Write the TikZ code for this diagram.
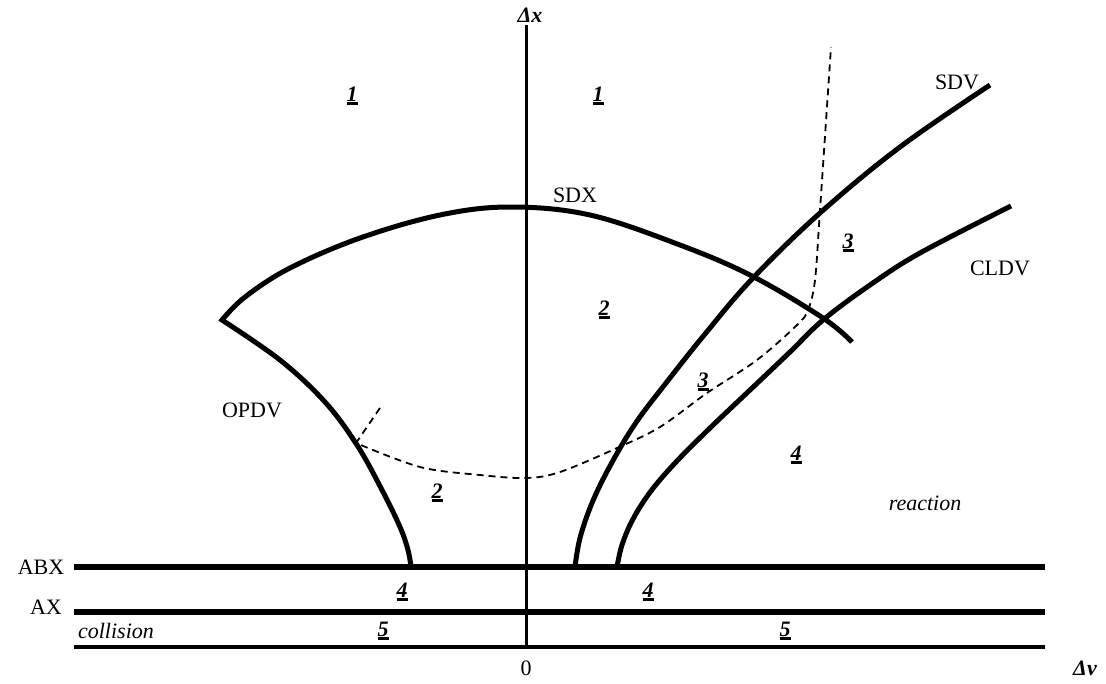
\documentclass[tikz,border=0pt]{standalone}
\usepackage{fontspec}
\setmainfont{Liberation Serif}
\usetikzlibrary{positioning}

% zone numbers: bold italic with a heavy underline
\newcommand{\zn}[1]{\setbox0\hbox{\bfseries\itshape #1}\rlap{\rule[-4pt]{\wd0}{2.8pt}}\box0}

\tikzset{
  curve/.style={line width=5pt},
  axisline/.style={line width=3pt},
  bound/.style={line width=6.5pt},
  base/.style={line width=3.5pt},
  guide/.style={line width=1.8pt, dash pattern=on 7pt off 5pt},
  txt/.style={font=\fontsize{22}{26}\selectfont, inner sep=0pt},
  zone/.style={txt, anchor=base},
}

\begin{document}
\begin{tikzpicture}[x=1pt, y=-1pt]
\useasboundingbox (0,0) rectangle (1106,683);

% horizontal limits
\draw[bound] (74,567) -- (1045,567);
\draw[bound] (74,612) -- (1045,612);
\draw[base] (74,647) -- (1045,647);
% vertical axis
\draw[axisline] (526,25) -- (526,647);

% boundary curves
\draw[curve, line join=miter] plot[smooth, tension=0.6] coordinates
  {(852,342) (823,318) (752,276) (680,245) (590,215) (510,207) (440,215) (360,238) (290,268) (245,297) (222,320)}
  -- plot[smooth, tension=0.6] coordinates
  {(222,320) (280,360) (325,402) (357,445) (382,490) (400,527) (408,550) (411,567)};
\draw[curve] plot[smooth, tension=0.6] coordinates
  {(575,567) (580,538) (592,503) (610,466) (635,424) (666,383) (705,334) (752,279) (820,213) (900,147) (990,85)};
\draw[curve] plot[smooth, tension=0.6] coordinates
  {(617,567) (622,545) (633,519) (651,491) (676,462) (710,428) (750,390) (790,352) (823,320) (870,285) (920,253) (1011,206)};
% dashed line
\draw[guide] (380,408) -- plot[smooth, tension=0.55] coordinates
  {(356,443) (420,467) (480,475) (526,478) (560,472) (617,448) (660,427) (707,393) (757,360) (797,325) (808,310) (815,280) (820,210) (831,47)};

% axis and curve labels
\node[txt, font=\fontsize{22}{26}\selectfont\bfseries\itshape] (dx) at (530,15) {Δx};
\node[txt, font=\fontsize{22}{26}\selectfont\bfseries\itshape] (dv) at (1085,668) {Δv};
\node[txt] (zero) at (526,668) {0};
\node[txt] (sdx) at (575,195) {SDX};
\node[txt] (sdv) at (957,82) {SDV};
\node[txt] (cldv) at (1000,268) {CLDV};
\node[txt] (opdv) at (252,410) {OPDV};
\node[txt] (abx) at (41,567) {ABX};
\node[txt] (ax) at (46,607) {AX};
\node[txt, font=\fontsize{22}{26}\selectfont\itshape] (coll) at (116,631) {collision};
\node[txt, font=\fontsize{22}{26}\selectfont\itshape] (react) at (925,503) {reaction};

% zones
\node[zone] (z1a) at (352,101) {\zn{1}};
\node[zone] (z1b) at (598,101) {\zn{1}};
\node[zone] (z2a) at (604,315) {\zn{2}};
\node[zone] (z2b) at (437,498) {\zn{2}};
\node[zone] (z3a) at (848,248) {\zn{3}};
\node[zone] (z3b) at (703,387) {\zn{3}};
\node[zone] (z4a) at (796,460) {\zn{4}};
\node[zone] (z4b) at (402,597) {\zn{4}};
\node[zone] (z4c) at (648,597) {\zn{4}};
\node[zone] (z5a) at (383,636) {\zn{5}};
\node[zone] (z5b) at (785,636) {\zn{5}};
\end{tikzpicture}
\end{document}
